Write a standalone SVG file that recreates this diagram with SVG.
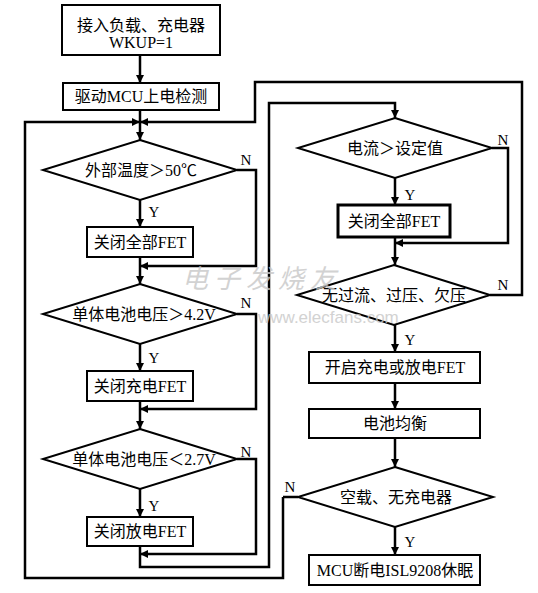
<svg xmlns="http://www.w3.org/2000/svg" width="538" height="593" viewBox="0 0 538 593">
<style>
.b{fill:#fff;stroke:#000;stroke-width:2}
.bt{fill:#fff;stroke:#000;stroke-width:3}
.t{font-family:"Liberation Serif","Noto Sans CJK SC",serif;font-size:16px;fill:#000;text-anchor:middle}
.l{font-family:"Liberation Serif","Noto Sans CJK SC",serif;font-size:15px;fill:#000;text-anchor:middle}
.c{fill:none;stroke:#000;stroke-width:2.5}
.wm{font-family:"Liberation Sans","Noto Sans CJK SC",sans-serif;fill:#c8c8c8;opacity:0.8}
</style>
<defs>
<marker id="a" viewBox="0 0 10 10" refX="10" refY="5" markerWidth="3.6" markerHeight="3.2" orient="auto" markerUnits="strokeWidth">
<path d="M0,0 L10,5 L0,10 z" fill="#000"/>
</marker>
</defs>
<rect width="538" height="593" fill="#fff"/>
<g id="connectors">
<path class="c" d="M140,55 V83" marker-end="url(#a)"/>
<path class="c" d="M140,110 V140" marker-end="url(#a)"/>
<path class="c" d="M283,497 H298 M283,497 V578 H25 V122 H140" marker-end="url(#a)"/>
<path class="c" d="M490,295 H522 V82 H255 V122 H140" marker-end="url(#a)"/>
<path class="c" d="M140,200 V227" marker-end="url(#a)"/>
<path class="c" d="M140,257 V284" marker-end="url(#a)"/>
<path class="c" d="M237,170 H256 V266 H140" marker-end="url(#a)"/>
<path class="c" d="M140,344 V371" marker-end="url(#a)"/>
<path class="c" d="M140,401 V429" marker-end="url(#a)"/>
<path class="c" d="M237,314 H256 V409 H140" marker-end="url(#a)"/>
<path class="c" d="M140,489 V517" marker-end="url(#a)"/>
<path class="c" d="M237,459 H256 V554 H140" marker-end="url(#a)"/>
<path class="c" d="M140,546 V567 H269 V103 H395 V118" marker-end="url(#a)"/>
<path class="c" d="M395,178 V205" marker-end="url(#a)"/>
<path class="c" d="M395,237 V265" marker-end="url(#a)"/>
<path class="c" d="M492,148 H508 V243 H395" marker-end="url(#a)"/>
<path class="c" d="M395,325 V352" marker-end="url(#a)"/>
<path class="c" d="M395,383 V409" marker-end="url(#a)"/>
<path class="c" d="M395,438 V467" marker-end="url(#a)"/>
<path class="c" d="M395,527 V555" marker-end="url(#a)"/>
</g>
<g id="labels">
<text class="l" x="246" y="165">N</text>
<text class="l" x="154" y="217">Y</text>
<text class="l" x="246" y="308">N</text>
<text class="l" x="154" y="363">Y</text>
<text class="l" x="246" y="457">N</text>
<text class="l" x="154" y="511">Y</text>
<text class="l" x="503" y="145">N</text>
<text class="l" x="410" y="200">Y</text>
<text class="l" x="503" y="290">N</text>
<text class="l" x="410" y="345">Y</text>
<text class="l" x="290" y="492">N</text>
<text class="l" x="410" y="547">Y</text>
</g>
<g id="n1"><rect class="b" x="62" y="5" width="158" height="50"/><text class="t" x="141" y="31">接入负载、充电器</text><text class="t" x="141" y="48">WKUP=1</text></g>
<g id="n2"><rect class="b" x="63" y="83" width="156" height="27"/><text class="t" x="141" y="102">驱动MCU上电检测</text></g>
<g id="d1"><polygon class="b" points="140,140 237,170 140,200 43,170"/><text class="t" x="141" y="176">外部温度＞50℃</text></g>
<g id="n3"><rect class="b" x="87" y="227" width="106" height="30"/><text class="t" x="140" y="248">关闭全部FET</text></g>
<g id="d2"><polygon class="b" points="140,284 237,314 140,344 43,314"/><text class="t" x="144" y="320">单体电池电压＞4.2V</text></g>
<g id="n4"><rect class="b" x="87" y="371" width="106" height="30"/><text class="t" x="140" y="392">关闭充电FET</text></g>
<g id="d3"><polygon class="b" points="140,429 237,459 140,489 43,459"/><text class="t" x="144" y="465">单体电池电压＜2.7V</text></g>
<g id="n5"><rect class="b" x="87" y="517" width="106" height="29"/><text class="t" x="140" y="537">关闭放电FET</text></g>
<g id="d4"><polygon class="b" points="395,118 492,148 395,178 298,148"/><text class="t" x="395" y="154">电流＞设定值</text></g>
<g id="n6"><rect class="bt" x="338" y="205" width="112" height="32"/><text class="t" x="394" y="227">关闭全部FET</text></g>
<g id="d5"><polygon class="b" points="394,265 490,295 394,325 297,295"/><text class="t" x="394" y="301">无过流、过压、欠压</text></g>
<g id="n7"><rect class="b" x="309" y="352" width="171" height="31"/><text class="t" x="395" y="373">开启充电或放电FET</text></g>
<g id="n8"><rect class="b" x="309" y="409" width="171" height="29"/><text class="t" x="395" y="429">电池均衡</text></g>
<g id="d6"><polygon class="b" points="395,467 493,497 395,527 298,497"/><text class="t" x="396" y="503">空载、无充电器</text></g>
<g id="n9"><rect class="b" x="309" y="555" width="171" height="30"/><text class="t" x="395" y="576">MCU断电ISL9208休眠</text></g>
<g id="watermark">
<text class="wm" x="182" y="288" font-size="26" font-style="italic" letter-spacing="6">电子发烧友</text>
<text class="wm" x="258" y="323" font-size="17">www.elecfans.com</text>
</g>
</svg>
